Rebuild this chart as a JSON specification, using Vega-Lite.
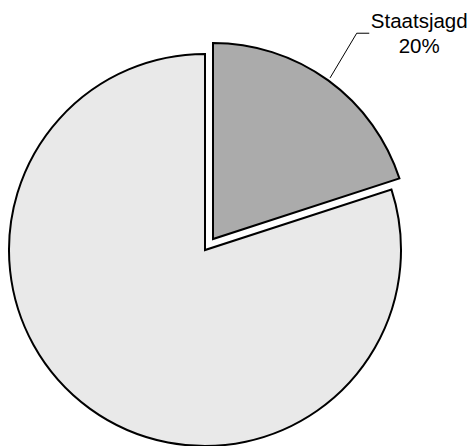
{
  "$schema": "https://vega.github.io/schema/vega-lite/v6.json",
  "width": 410,
  "height": 392,
  "autosize": "none",
  "padding": {"left": 0, "top": 54, "right": 59, "bottom": 0},
  "background": "white",
  "config": {"view": {"stroke": null}},
  "datasets": {
    "shares": [
      {"category": "Staatsjagd", "share": 20},
      {"category": "Übrige Flächen", "share": 80}
    ],
    "leader": [
      {"x": 0.638, "y": 0.878},
      {"x": 0.774, "y": 1.106},
      {"x": 0.838, "y": 1.106}
    ]
  },
  "layer": [
    {
      "data": {"name": "shares"},
      "transform": [
        {"stack": "share", "groupby": [], "as": ["start", "end"]},
        {"filter": "datum.category !== 'Staatsjagd'"}
      ],
      "mark": {"type": "arc", "stroke": "black", "strokeWidth": 2},
      "encoding": {
        "theta": {"field": "start", "type": "quantitative", "scale": {"domain": [0, 100]}},
        "theta2": {"field": "end"},
        "color": {
          "field": "category",
          "type": "nominal",
          "scale": {"domain": ["Staatsjagd", "Übrige Flächen"], "range": ["#ababab", "#e9e9e9"]},
          "legend": null
        }
      }
    },
    {
      "data": {"name": "shares"},
      "transform": [
        {"stack": "share", "groupby": [], "as": ["start", "end"]},
        {"filter": "datum.category === 'Staatsjagd'"}
      ],
      "mark": {"type": "arc", "stroke": "black", "strokeWidth": 2, "xOffset": 8, "yOffset": -11},
      "encoding": {
        "theta": {"field": "start", "type": "quantitative", "scale": {"domain": [0, 100]}},
        "theta2": {"field": "end"},
        "color": {
          "field": "category",
          "type": "nominal",
          "scale": {"domain": ["Staatsjagd", "Übrige Flächen"], "range": ["#ababab", "#e9e9e9"]},
          "legend": null
        }
      }
    },
    {
      "data": {"name": "leader"},
      "mark": {"type": "line", "color": "black", "strokeWidth": 1, "clip": false},
      "encoding": {
        "x": {"field": "x", "type": "quantitative", "axis": null, "scale": {"domain": [-1.0459, 1.0459], "nice": false, "zero": false}},
        "y": {"field": "y", "type": "quantitative", "axis": null, "scale": {"domain": [-1, 1], "nice": false, "zero": false}}
      }
    },
    {
      "data": {"name": "shares"},
      "transform": [
        {"filter": "datum.category === 'Staatsjagd'"},
        {"calculate": "datum.category + '\\n' + datum.share + '%'", "as": "label"}
      ],
      "mark": {
        "type": "text",
        "font": "Liberation Sans",
        "fontSize": 20.5,
        "align": "center",
        "baseline": "alphabetic",
        "lineBreak": "\n",
        "lineHeight": 25,
        "color": "black",
        "clip": false
      },
      "encoding": {
        "x": {"datum": 1.093, "type": "quantitative"},
        "y": {"datum": 1.131, "type": "quantitative"},
        "text": {"field": "label"}
      }
    }
  ]
}
